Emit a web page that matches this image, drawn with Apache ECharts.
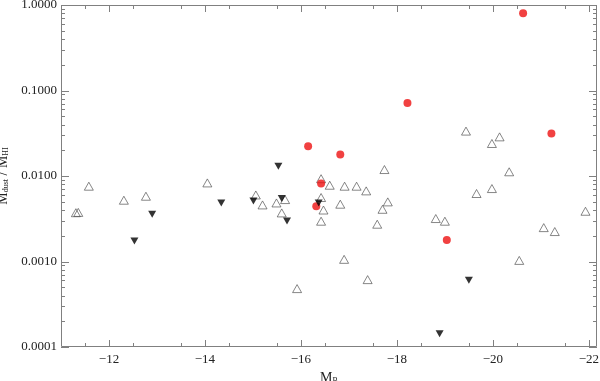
<!DOCTYPE html>
<html>
<head>
<meta charset="utf-8">
<script src="https://cdn.jsdelivr.net/npm/echarts@6/dist/echarts.min.js"></script>
<style>
html, body { margin: 0; padding: 0; background: #fff; }
#chart { width: 600px; height: 381px; }
</style>
</head>
<body>
<div id="chart"></div>
<script>
// open triangles
const openMB = [-11.31, -11.36, -11.58, -12.31, -12.77, -14.05, -15.06, -15.20, -15.49, -15.60,
    -15.67, -15.92, -16.42, -16.42, -16.42, -16.47, -16.60, -16.82, -16.90, -16.91,
    -17.16, -17.36, -17.39, -17.59, -17.70, -17.74, -17.81, -18.81, -19.00, -19.44,
    -19.66, -19.98, -19.98, -20.14, -20.34, -20.55, -21.06, -21.29, -21.93];
const openRatio = [0.00372, 0.00375, 0.0076, 0.00521, 0.0058, 0.0083, 0.0060, 0.00459, 0.00484, 0.0037,
    0.0053, 0.000482, 0.0093, 0.0056, 0.00296, 0.0040, 0.0078, 0.00468, 0.00106, 0.0076,
    0.0076, 0.0067, 0.000614, 0.00273, 0.00408, 0.0119, 0.00498, 0.00318, 0.00296, 0.0335,
    0.00624, 0.0240, 0.00713, 0.0287, 0.0112, 0.00103, 0.00249, 0.00224, 0.00387];
// upper limits (filled, pointing down)
const limMB = [-12.53, -12.90, -14.34, -15.01, -15.53, -15.60, -15.71, -16.37, -18.89, -19.50];
const limRatio = [0.00174, 0.00357, 0.00484, 0.0051, 0.0130, 0.00545, 0.00298, 0.00484, 0.000143, 0.000603];
// red circles
const redMB = [-16.15, -16.32, -16.42, -16.82, -18.22, -19.04, -20.63, -21.22];
const redRatio = [0.0223, 0.00443, 0.00817, 0.0179, 0.0712, 0.00179, 0.80, 0.0315];

const xTicks = [-12, -14, -16, -18, -20, -22];
const yTicks = [0.0001, 0.001, 0.01, 0.1, 1];

const xMinor = [];
for (let v = -11.5; v >= -22; v -= 1) xMinor.push(v);
const yMinor = [];
for (let e = -4; e < 0; e++) {
    for (let m = 2; m <= 9; m++) yMinor.push(+(m * Math.pow(10, e)).toPrecision(2));
}

const xMin = -22.17, xMax = -11;
const yMin = 0.0001, yMax = 1;
const zip = (xs, ys) => xs.map((x, i) => [x, ys[i]]);
const font = 'Liberation Serif';
const axisColor = '#808080';
const tickStyle = { stroke: axisColor, lineWidth: 1 };

// tick marks on all four sides, placed through the axes' own scales
function xTickItem(params, api) {
    const cs = params.coordSys;
    const x = Math.round(api.coord([api.value(0), yMax])[0]) + 0.5;
    const len = api.value(1);
    return { type: 'group', children: [
        { type: 'line', shape: { x1: x, y1: cs.y + cs.height, x2: x, y2: cs.y + cs.height - len }, style: tickStyle },
        { type: 'line', shape: { x1: x, y1: cs.y, x2: x, y2: cs.y + len }, style: tickStyle }
    ] };
}
function yTickItem(params, api) {
    const cs = params.coordSys;
    const y = Math.round(api.coord([xMax, api.value(0)])[1]) + 0.5;
    const len = api.value(1);
    const children = [
        { type: 'line', shape: { x1: cs.x, y1: y, x2: cs.x + len, y2: y }, style: tickStyle },
        { type: 'line', shape: { x1: cs.x + cs.width, y1: y, x2: cs.x + cs.width - len, y2: y }, style: tickStyle }
    ];
    if (params.dataIndex === 0) {
        children.push({ type: 'rect', shape: { x: cs.x + 0.5, y: cs.y + 0.5, width: cs.width - 1, height: cs.height - 1 },
            style: { fill: null, stroke: axisColor, lineWidth: 1 } });
    }
    return { type: 'group', children: children };
}

const chart = echarts.init(document.getElementById('chart'));
chart.setOption({
    animation: false,
    grid: { left: 61, right: 3, top: 5, bottom: 34, outerBoundsMode: 'none' },
    xAxis: {
        type: 'value', inverse: true, min: xMin, max: xMax,
        splitLine: { show: false },
        axisLine: { show: false, onZero: false },
        axisTick: { show: false },
        name: 'M{sub|B}', nameLocation: 'middle', nameGap: 22,
        nameTextStyle: {
            fontFamily: font, fontSize: 14, color: '#222',
            rich: { sub: { fontFamily: font, fontSize: 8, color: '#222', verticalAlign: 'bottom', padding: [6, 0, 0, 0] } }
        },
        axisLabel: {
            customValues: xTicks, margin: 6,
            fontFamily: font, fontSize: 13, color: '#222',
            formatter: v => String(v).replace('-', '\u2212')
        }
    },
    yAxis: {
        type: 'log', logBase: 10, min: yMin, max: yMax,
        splitLine: { show: false },
        axisLine: { show: false, onZero: false },
        axisTick: { show: false },
        name: 'M{sub|dust} / M{sub|HI}', nameLocation: 'middle', nameGap: 42,
        nameTextStyle: {
            fontFamily: font, fontSize: 14, color: '#222',
            rich: { sub: { fontFamily: font, fontSize: 8, color: '#222', verticalAlign: 'bottom', padding: [6, 0, 0, 0] } }
        },
        axisLabel: {
            customValues: yTicks,
            margin: 4, fontFamily: font, fontSize: 13, color: '#222',
            formatter: v => v.toFixed(4)
        }
    },
    series: [
        {
            type: 'custom', renderItem: yTickItem, silent: true, clip: false,
            encode: { y: 0 },
            data: yTicks.map(v => [v, 8]).concat(yMinor.map(v => [v, 4]))
        },
        {
            type: 'custom', renderItem: xTickItem, silent: true, clip: false,
            encode: { x: 0 },
            data: xTicks.map(v => [v, 7]).concat(xMinor.map(v => [v, 4]))
        },
        {
            type: 'scatter', data: zip(openMB, openRatio),
            symbol: 'triangle', symbolSize: [9, 8],
            itemStyle: { color: 'rgba(255,255,255,0)', borderColor: '#444', borderWidth: 0.8 }
        },
        {
            type: 'scatter', data: zip(redMB, redRatio),
            symbol: 'circle', symbolSize: 8,
            itemStyle: { color: '#ee1111' }
        },
        {
            type: 'scatter', data: zip(limMB, limRatio),
            symbol: 'triangle', symbolSize: [8, 7], symbolRotate: 180,
            itemStyle: { color: '#000' }
        }
    ]
});
</script>
</body>
</html>
